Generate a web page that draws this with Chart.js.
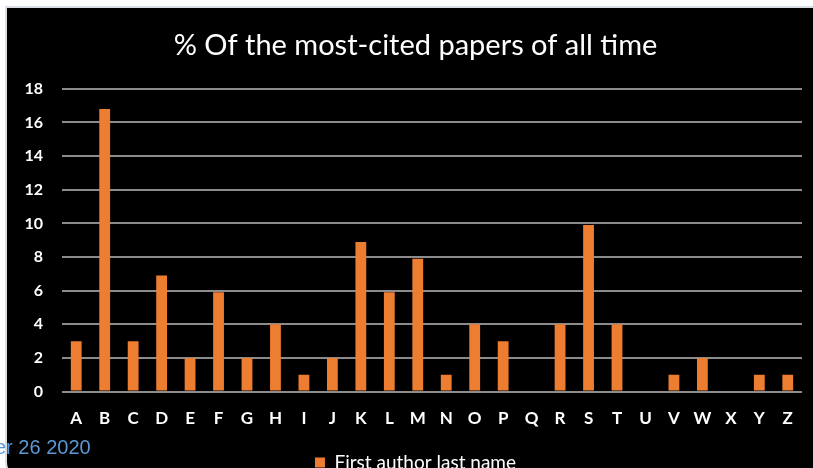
<!DOCTYPE html>
<html>
<head>
<meta charset="utf-8">
<script src="https://cdn.jsdelivr.net/npm/chart.js@4/dist/chart.umd.min.js"></script>
<style>
  html, body { margin: 0; padding: 0; background: #ffffff; width: 813px; height: 468px; overflow: hidden; }
  #frame {
    position: absolute; left: 5px; top: 6px; width: 808px; height: 470px;
    background: #000000; border-left: 2px solid #d8dee3; border-top: 2px solid #d8dee3;
    border-bottom-left-radius: 16px;
  }
  #wrap { position: absolute; left: 7px; top: 8px; width: 806px; height: 474px; }
  #date {
    position: absolute; left: -5px; top: 436px; z-index: 2;
    font-family: "Liberation Sans", Arial, sans-serif; font-size: 20px; color: #5b98d4;
    white-space: nowrap;
  }
</style>
</head>
<body>
<div id="frame"></div>
<div id="wrap"><canvas id="c" width="806" height="474"></canvas></div>
<div id="date">er 26 2020</div>
<script>
// Share of the most-cited papers, by first letter of the first author's last name
const letters = ['A','B','C','D','E','F','G','H','I','J','K','L','M','N','O','P','Q','R','S','T','U','V','W','X','Y','Z'];
const percentages = [3.0, 16.8, 3.0, 6.9, 2.0, 5.9, 2.0, 4.0, 1.0, 2.0, 8.9, 5.9, 7.9, 1.0, 4.0, 3.0, 0, 4.0, 9.9, 4.0, 0, 1.0, 2.0, 0, 1.0, 1.0];
const seriesName = 'First author last name';
const chartTitle = '% Of the most-cited papers of all time';

const FONT = 'Lato, "Open Sans", sans-serif';

// The value labels sit partly inside the left layout padding; widen the
// label clip region so they are not cut off.
const labelRoom = {
  id: 'labelRoom',
  afterLayout(chart) { chart.scales.y.left = 0; }
};

new Chart(document.getElementById('c'), {
  type: 'bar',
  data: {
    labels: letters,
    datasets: [{
      label: seriesName,
      data: percentages,
      backgroundColor: '#ed7d31',
      borderWidth: 0,
      barPercentage: 0.38,
      categoryPercentage: 1.0
    }]
  },
  options: {
    responsive: false,
    animation: false,
    layout: { padding: { left: 22, right: 11, top: 0, bottom: 0 } },
    plugins: {
      title: {
        display: true,
        text: chartTitle,
        color: '#ffffff',
        font: { family: FONT, size: 29, weight: 'normal' },
        padding: { top: 20, bottom: 26 }
      },
      legend: {
        position: 'bottom',
        labels: {
          color: '#ffffff',
          font: { family: FONT, size: 19 },
          boxWidth: 10,
          boxHeight: 10,
          padding: 15
        }
      },
      tooltip: { enabled: false }
    },
    scales: {
      x: {
        grid: { display: false },
        border: { display: false },
        ticks: { color: '#ffffff', font: { family: FONT, size: 17, weight: 'bold' }, padding: 9 }
      },
      y: {
        min: 0,
        max: 18,
        afterFit: (scale) => { scale.width = 33; },
        ticks: { stepSize: 2, color: '#ffffff', font: { family: FONT, size: 16, weight: 'bold' }, padding: 19 },
        grid: { color: '#8c8c8c', lineWidth: 2, drawTicks: false },
        border: { display: false }
      }
    }
  },
  plugins: [labelRoom]
});
</script>
</body>
</html>
